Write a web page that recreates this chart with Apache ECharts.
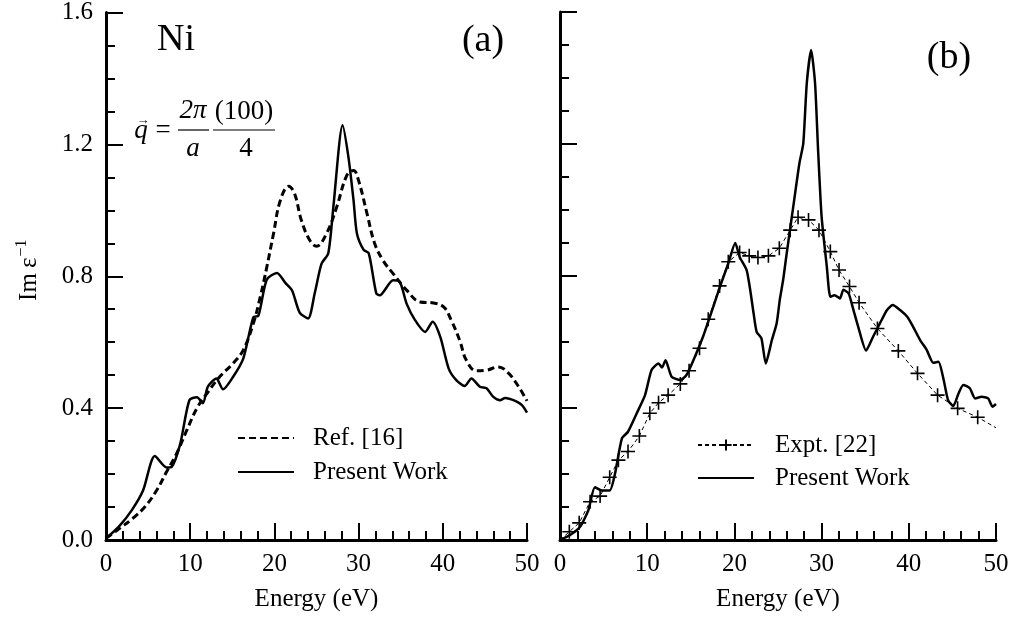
<!DOCTYPE html>
<html><head><meta charset="utf-8">
<script src="https://cdn.jsdelivr.net/npm/echarts@6/dist/echarts.min.js"></script>
<style>html,body{margin:0;padding:0;background:#fff}#c{width:1016px;height:620px}</style>
</head><body><div id="c"></div>
<script>
// ---- data ----
const xTicks = [0, 10, 20, 30, 40, 50];
const xMinorTicks = [2, 4, 6, 8, 12, 14, 16, 18, 22, 24, 26, 28, 32, 34, 36, 38, 42, 44, 46, 48];
const yTicks = [0.0, 0.4, 0.8, 1.2, 1.6];

const refA_E = [0, 1.66, 3.2, 4.6, 6.0, 7.2, 8.4, 9.6, 10.8, 12.0, 13.5, 15.1, 16.3, 17.5, 18.3, 19.1, 19.9, 20.7, 21.7, 22.4, 23.2, 24.2, 25.0, 26.2, 27.4, 28.6, 29.4, 30.0, 31.0, 31.9, 32.9, 34.1, 35.7, 37.3, 38.9, 40.1, 41.0, 42.0, 42.8, 44.0, 45.2, 46.6, 47.8, 49.0, 50.0];
const refA_V = [0.005, 0.036, 0.066, 0.1, 0.15, 0.207, 0.263, 0.333, 0.4, 0.445, 0.495, 0.536, 0.576, 0.657, 0.735, 0.828, 0.93, 1.03, 1.073, 1.05, 0.97, 0.909, 0.891, 0.93, 1.01, 1.106, 1.121, 1.09, 0.99, 0.9, 0.848, 0.808, 0.758, 0.722, 0.719, 0.707, 0.667, 0.606, 0.545, 0.513, 0.515, 0.525, 0.506, 0.465, 0.422];

const presA_E = [0, 1.5, 3.05, 4.4, 5.8, 7.2, 7.8, 8.8, 9.9, 10.8, 11.5, 12.1, 13.1, 13.9, 15.1, 16.3, 17.5, 18.1, 19.1, 20.3, 21.3, 22.1, 23.0, 24.0, 24.8, 25.6, 26.4, 27.0, 28.1, 28.8, 29.4, 29.8, 30.6, 31.2, 32.1, 32.5, 34.1, 34.9, 35.7, 36.7, 37.9, 38.8, 39.7, 40.7, 41.6, 42.6, 43.4, 44.4, 45.2, 46.0, 46.8, 47.4, 48.6, 49.4, 50.0];
const presA_V = [0.005, 0.04, 0.09, 0.15, 0.255, 0.22, 0.222, 0.29, 0.424, 0.433, 0.415, 0.465, 0.49, 0.457, 0.495, 0.55, 0.676, 0.68, 0.79, 0.81, 0.78, 0.757, 0.69, 0.672, 0.75, 0.838, 0.87, 1.01, 1.258, 1.16, 1.03, 0.93, 0.88, 0.87, 0.748, 0.742, 0.788, 0.783, 0.717, 0.667, 0.631, 0.662, 0.616, 0.52, 0.485, 0.467, 0.49, 0.465, 0.46, 0.434, 0.424, 0.431, 0.422, 0.409, 0.386];

const presB_E = [0, 1.15, 2.3, 3.25, 4.0, 4.8, 5.7, 6.3, 7.1, 7.8, 8.8, 9.75, 10.5, 11.3, 11.7, 12.1, 12.8, 13.8, 14.5, 15.3, 16.4, 17.2, 18.35, 19.3, 20.1, 20.6, 21.4, 21.8, 22.2, 22.55, 23.1, 23.6, 24.3, 24.85, 25.2, 25.6, 26.0, 26.75, 27.45, 27.9, 28.3, 28.8, 29.25, 29.6, 30.0, 30.6, 31.0, 31.5, 32.1, 32.5, 33.1, 33.6, 34.2, 35.1, 35.9, 36.7, 37.5, 38.15, 39.0, 39.8, 40.5, 41.3, 42.05, 42.8, 43.4, 44.0, 44.5, 45.1, 45.7, 46.25, 47.0, 47.6, 48.35, 49.1, 49.6, 50.0];
const presB_V = [0, 0.015, 0.04, 0.09, 0.16, 0.15, 0.15, 0.2, 0.308, 0.328, 0.384, 0.439, 0.515, 0.535, 0.523, 0.545, 0.495, 0.485, 0.5, 0.545, 0.616, 0.677, 0.768, 0.838, 0.9, 0.858, 0.818, 0.76, 0.687, 0.631, 0.611, 0.535, 0.606, 0.657, 0.727, 0.79, 0.869, 1.01, 1.141, 1.202, 1.384, 1.485, 1.384, 1.18, 0.98, 0.828, 0.737, 0.742, 0.732, 0.758, 0.747, 0.702, 0.646, 0.574, 0.616, 0.657, 0.697, 0.712, 0.697, 0.677, 0.646, 0.606, 0.576, 0.537, 0.54, 0.485, 0.424, 0.406, 0.444, 0.47, 0.46, 0.429, 0.434, 0.429, 0.404, 0.412];

const exptB_E = [1.07, 2.2, 3.45, 4.6, 5.7, 6.7, 7.8, 9.1, 10.3, 11.3, 12.4, 13.8, 14.8, 16.0, 17.0, 18.3, 19.3, 20.6, 21.7, 22.7, 23.9, 25.15, 26.4, 27.3, 28.5, 29.7, 31.0, 32.0, 33.2, 34.3, 36.4, 38.8, 41.0, 43.3, 45.6, 47.9];
const exptB_V = [0.025, 0.052, 0.116, 0.133, 0.19, 0.242, 0.268, 0.315, 0.384, 0.416, 0.439, 0.473, 0.513, 0.581, 0.669, 0.77, 0.843, 0.871, 0.861, 0.856, 0.861, 0.884, 0.939, 0.978, 0.97, 0.939, 0.874, 0.818, 0.768, 0.719, 0.641, 0.573, 0.505, 0.439, 0.399, 0.372];
const exptLineStart = [0, 0];
const exptLineEnd = [50, 0.34];

// ---- chart ----
const FONT = '"Liberation Serif", "Times New Roman", serif';
const pairs = (xs, ys) => xs.map((x, i) => [x, ys[i]]);
const crossPath = 'path://M0,5L10,5M5,0L5,10';
const PX_PER_UNIT = 528 / (yTicks[yTicks.length - 1] - yTicks[0]);
const MAJOR_LEN = 17 / PX_PER_UNIT;
const MINOR_LEN = 9 / PX_PER_UNIT;

const exptData = [{value: exptLineStart, symbol: 'none'}]
  .concat(pairs(exptB_E, exptB_V))
  .concat([{value: exptLineEnd, symbol: 'none'}]);

// x-axis tick marks as markLine segments placed through the axis scale
const tickMarkLine = {
  silent: true, symbol: 'none', animation: false,
  label: {show: false},
  emphasis: {disabled: true},
  lineStyle: {color: '#000', width: 2, type: 'solid', opacity: 1},
  data: xTicks.map(v => [{coord: [v, yTicks[0]]}, {coord: [v, yTicks[0] + MAJOR_LEN]}])
    .concat(xMinorTicks.map(v => [{coord: [v, yTicks[0]]}, {coord: [v, yTicks[0] + MINOR_LEN]}]))
};

function xAxisCfg(idx) {
  return {
    gridIndex: idx, type: 'value', min: xTicks[0], max: xTicks[xTicks.length - 1], interval: 10,
    name: 'Energy (eV)', nameLocation: 'middle', nameGap: 47,
    nameTextStyle: {fontFamily: FONT, fontSize: 25, color: '#000'},
    axisLine: {show: true, onZero: false, lineStyle: {color: '#000', width: 3}},
    axisTick: {show: true, inside: true, length: 17, lineStyle: {color: '#000', width: 2}},
    minorTick: {show: true, splitNumber: 5, length: 9, lineStyle: {color: '#000', width: 2}},
    axisLabel: {show: true, fontFamily: FONT, fontSize: 25, color: '#000', margin: 12},
    splitLine: {show: false}
  };
}
function yAxisCfg(idx, showLabels) {
  return {
    gridIndex: idx, type: 'value', min: yTicks[0], max: yTicks[yTicks.length - 1], interval: 0.4,
    name: showLabels ? '{a|Im\u2009\u03b5}{b|\u22121}' : '',
    nameLocation: 'middle', nameGap: 64, nameRotate: 90,
    nameTextStyle: {
      color: '#000', padding: [0, 0, 0, 12],
      rich: {
        a: {fontFamily: FONT, fontSize: 25, color: '#000', lineHeight: 28, verticalAlign: 'bottom'},
        b: {fontFamily: FONT, fontSize: 16, color: '#000', lineHeight: 28, verticalAlign: 'top', padding: [0, 0, 12, 1]}
      }
    },
    axisLine: {show: true, lineStyle: {color: '#000', width: 3}},
    axisTick: {show: true, inside: true, length: 17, lineStyle: {color: '#000', width: 2}},
    minorTick: {show: true, splitNumber: 4, length: 9, lineStyle: {color: '#000', width: 2}},
    axisLabel: {show: showLabels, fontFamily: FONT, fontSize: 25, color: '#000', margin: 13,
      formatter: v => v.toFixed(1)},
    splitLine: {show: false}
  };
}

const legendText = {fontFamily: FONT, fontSize: 25, color: '#000', lineHeight: 26, padding: [0, 0, 0, 14]};

const option = {
  animation: false,
  grid: [
    {left: 106, top: 12, width: 421, height: 528},
    {left: 560, top: 12, width: 436, height: 528}
  ],
  xAxis: [xAxisCfg(0), xAxisCfg(1)],
  yAxis: [yAxisCfg(0, true), yAxisCfg(1, false)],
  legend: [
    {left: 232, top: 420, orient: 'vertical', itemWidth: 56, itemHeight: 14, itemGap: 8, selectedMode: false,
      data: [{name: 'Ref. [16]', itemStyle: {opacity: 0}}, {name: 'Present Work', itemStyle: {opacity: 0}}],
      textStyle: legendText},
    {left: 692, top: 427, orient: 'vertical', itemWidth: 56, itemHeight: 14, itemGap: 7, selectedMode: false,
      data: [{name: 'Expt. [22]'}, {name: 'Present Work', itemStyle: {opacity: 0}}],
      textStyle: Object.assign({}, legendText, {padding: [0, 0, 0, 16]})}
  ],
  series: [
    {name: 'Ref. [16]', type: 'line', xAxisIndex: 0, yAxisIndex: 0, data: pairs(refA_E, refA_V),
      symbol: 'none', smooth: 0.4, lineStyle: {color: '#000', width: 3, type: [7, 4]}, itemStyle: {color: '#000'}},
    {name: 'Present Work', type: 'line', xAxisIndex: 0, yAxisIndex: 0, data: pairs(presA_E, presA_V),
      symbol: 'none', smooth: 0.25, lineStyle: {color: '#000', width: 2.5}, itemStyle: {color: '#000'},
      markLine: tickMarkLine},
    {name: 'Expt. [22]', type: 'line', xAxisIndex: 1, yAxisIndex: 1, data: exptData,
      symbol: crossPath, symbolSize: 14, lineStyle: {color: '#000', width: 1, type: [4, 3]},
      itemStyle: {color: '#000', borderColor: '#000', borderWidth: 1.6}},
    {name: 'Present Work', type: 'line', xAxisIndex: 1, yAxisIndex: 1, data: pairs(presB_E, presB_V),
      symbol: 'none', smooth: 0.2, lineStyle: {color: '#000', width: 2.5}, itemStyle: {color: '#000'},
      markLine: tickMarkLine}
  ],
  graphic: [
    {type: 'text', x: 157, y: 40, style: {text: 'Ni', font: '38px ' + FONT, fill: '#000', align: 'left', verticalAlign: 'middle'}},
    {type: 'text', x: 483, y: 41, style: {text: '(a)', font: '38px ' + FONT, fill: '#000', align: 'center', verticalAlign: 'middle'}},
    {type: 'text', x: 949, y: 58, style: {text: '(b)', font: '38px ' + FONT, fill: '#000', align: 'center', verticalAlign: 'middle'}},
    {type: 'text', x: 141, y: 131, style: {text: 'q', font: 'italic 27px ' + FONT, fill: '#000', align: 'center', verticalAlign: 'middle'}},
    {type: 'text', x: 143, y: 121, style: {text: '\u2192', font: '13px ' + FONT, fill: '#000', align: 'center', verticalAlign: 'middle'}},
    {type: 'text', x: 163, y: 131, style: {text: '=', font: '27px ' + FONT, fill: '#000', align: 'center', verticalAlign: 'middle'}},
    {type: 'text', x: 193, y: 111, style: {text: '2\u03c0', font: 'italic 27px ' + FONT, fill: '#000', align: 'center', verticalAlign: 'middle'}},
    {type: 'line', shape: {x1: 178, y1: 130, x2: 209, y2: 130}, style: {stroke: '#000', lineWidth: 1.2}},
    {type: 'text', x: 193, y: 149, style: {text: 'a', font: 'italic 27px ' + FONT, fill: '#000', align: 'center', verticalAlign: 'middle'}},
    {type: 'text', x: 244, y: 112, style: {text: '(100)', font: '27px ' + FONT, fill: '#000', align: 'center', verticalAlign: 'middle'}},
    {type: 'line', shape: {x1: 213, y1: 130, x2: 275, y2: 130}, style: {stroke: '#000', lineWidth: 1.2}},
    {type: 'text', x: 246, y: 149, style: {text: '4', font: '27px ' + FONT, fill: '#000', align: 'center', verticalAlign: 'middle'}}
  ]
};

const chart = echarts.init(document.getElementById('c'), null, {renderer: 'canvas'});
chart.setOption(option);
</script>
</body></html>
